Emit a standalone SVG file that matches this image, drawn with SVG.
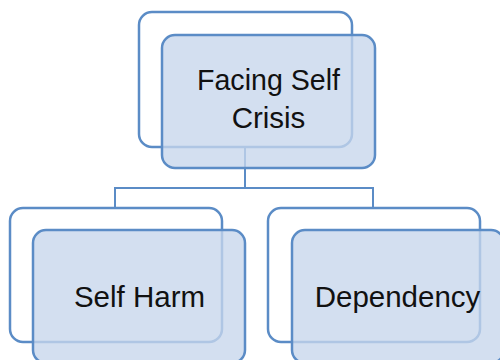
<svg xmlns="http://www.w3.org/2000/svg" width="500" height="360" viewBox="0 0 500 360">
<style>
.back{fill:#ffffff;stroke:#5b8cc6;stroke-width:2.5}
.front{fill:#c6d6ec;fill-opacity:0.78;stroke:#5b8cc6;stroke-width:2.5}
.lbl{font-family:"Liberation Sans",Arial,sans-serif;font-size:29.5px;fill:#111111;text-anchor:middle}
.conn{fill:none;stroke:#5b8cc6;stroke-width:2}
</style>
<rect width="500" height="360" fill="#ffffff"/>
<g id="connectors">
<path class="conn" d="M245 147 V188 M115 207 V188 H373 V207"/>
</g>
<g id="node-top">
<rect class="back" x="139" y="12" width="213" height="135" rx="13"/>
<rect class="front" x="162" y="35" width="213" height="133" rx="13"/>
<text class="lbl" x="268.5" y="90" textLength="143" lengthAdjust="spacingAndGlyphs">Facing Self</text>
<text class="lbl" x="268.5" y="128">Crisis</text>
</g>
<g id="node-self-harm">
<rect class="back" x="10" y="208" width="212" height="134" rx="13"/>
<rect class="front" x="33" y="230" width="212" height="133" rx="13"/>
<text class="lbl" x="139.5" y="307">Self Harm</text>
</g>
<g id="node-dependency">
<rect class="back" x="268" y="208" width="212" height="134" rx="13"/>
<rect class="front" x="292" y="230" width="212" height="133" rx="13"/>
<text class="lbl" x="397.5" y="307">Dependency</text>
</g>
</svg>
